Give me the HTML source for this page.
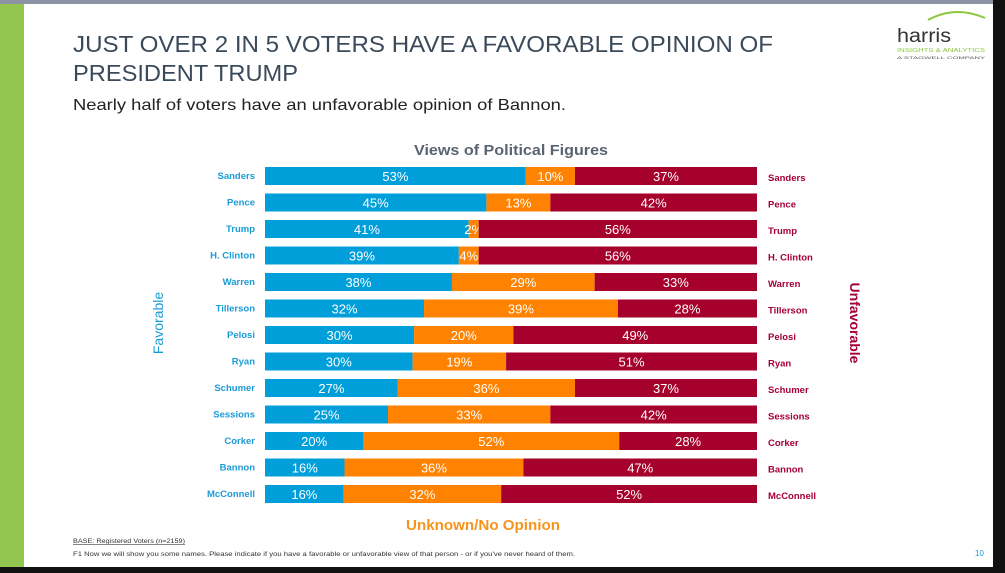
<!DOCTYPE html>
<html><head><meta charset="utf-8"><style>
body{margin:0;width:1005px;height:573px;overflow:hidden;background:#fff;font-family:"Liberation Sans",sans-serif}
svg{position:absolute;left:0;top:0}
</style></head><body>
<svg width="1005" height="573">
<rect x="0" y="0" width="1005" height="573" fill="#fff"/>
<rect x="0" y="0" width="1005" height="4" fill="#8b93a5"/>
<rect x="0" y="4" width="24" height="563" fill="#92c64e"/>
<rect x="993" y="0" width="12" height="573" fill="#111"/>
<rect x="0" y="567" width="1005" height="6" fill="#111"/>
<text x="73" y="52" font-size="23" fill="#3b4a5a" textLength="700" lengthAdjust="spacingAndGlyphs">JUST OVER 2 IN 5 VOTERS HAVE A FAVORABLE OPINION OF</text>
<text x="73" y="81" font-size="23" fill="#3b4a5a" textLength="225" lengthAdjust="spacingAndGlyphs">PRESIDENT TRUMP</text>
<text x="73" y="110" font-size="16" fill="#222" textLength="493" lengthAdjust="spacingAndGlyphs">Nearly half of voters have an unfavorable opinion of Bannon.</text>
<g>
<path d="M928 20 Q955 5 985 18" stroke="#8dc63f" stroke-width="2" fill="none"/>
<text x="897" y="42" font-size="19" fill="#333" textLength="54" lengthAdjust="spacingAndGlyphs">harris</text>
<text x="897" y="52" font-size="5" fill="#8dc63f" textLength="88" lengthAdjust="spacingAndGlyphs">INSIGHTS &amp; ANALYTICS</text>
<text x="897" y="59" font-size="4" fill="#555" textLength="88" lengthAdjust="spacingAndGlyphs">A STAGWELL COMPANY</text>
</g>
<text x="511" y="155" font-size="15" font-weight="bold" fill="#5a6470" text-anchor="middle" textLength="194" lengthAdjust="spacingAndGlyphs">Views of Political Figures</text>
<text transform="translate(163,323) rotate(-90)" font-size="14" fill="#1a9bd7" text-anchor="middle">Favorable</text>
<text transform="translate(850,323) rotate(90)" font-size="14" font-weight="bold" fill="#a50034" text-anchor="middle">Unfavorable</text>
<text x="483" y="530" font-size="15" font-weight="bold" fill="#f7941d" text-anchor="middle" textLength="154" lengthAdjust="spacingAndGlyphs">Unknown/No Opinion</text>
<text x="73" y="543" font-size="6" fill="#333" text-decoration="underline" textLength="112" lengthAdjust="spacingAndGlyphs">BASE: Registered Voters (n=2159)</text>
<text x="73" y="556" font-size="6.5" fill="#333" textLength="502" lengthAdjust="spacingAndGlyphs">F1 Now we will show you some names. Please indicate if you have a favorable or unfavorable view of that person - or if you've never heard of them.</text>
<text x="975" y="556" font-size="8" fill="#1a9bd7">10</text>
<g id="chart"></g>
</svg>
<script>
const names=["Sanders","Pence","Trump","H. Clinton","Warren","Tillerson","Pelosi","Ryan","Schumer","Sessions","Corker","Bannon","McConnell"];
const favorable=[53,45,41,39,38,32,30,30,27,25,20,16,16];
const unknown=[10,13,2,4,29,39,20,19,36,33,52,36,32];
const unfavorable=[37,42,56,56,33,28,49,51,37,42,28,47,52];
const NS="http://www.w3.org/2000/svg";
const g=document.getElementById('chart');
const x0=265,W=492,y0=176,step=26.5,bh=18;
const ys=i=>y0+i*step;
function mk(t,a){const e=document.createElementNS(NS,t);for(const k in a)e.setAttribute(k,a[k]);g.appendChild(e);return e;}
names.forEach((n,i)=>{
  const y=ys(i);
  const tot=favorable[i]+unknown[i]+unfavorable[i];
  const xs=v=>v/tot*W;
  const segs=[[favorable[i],"#009fda"],[unknown[i],"#ff8200"],[unfavorable[i],"#a6002c"]];
  let x=x0;
  segs.forEach((s,j)=>{
    const w=xs(s[0]);
    const r=mk('rect',{x:x,y:y-bh/2,width:w,height:bh,fill:s[1]});
    
    
    const t=mk('text',{x:x+w/2,y:y+5,'font-size':13,fill:'#fff','text-anchor':'middle'});
    t.textContent=s[0]+'%';
    
    
    x+=w;
  });
  const l=mk('text',{x:255,y:y+3,'font-size':9.5,'font-weight':'bold',fill:'#1a9bd7','text-anchor':'end'});
  l.textContent=n;
  
  
  const r=mk('text',{x:768,y:y+5,'font-size':9.5,'font-weight':'bold',fill:'#a50034'});
  r.textContent=n;
  
  
});
</script>
</body></html>
